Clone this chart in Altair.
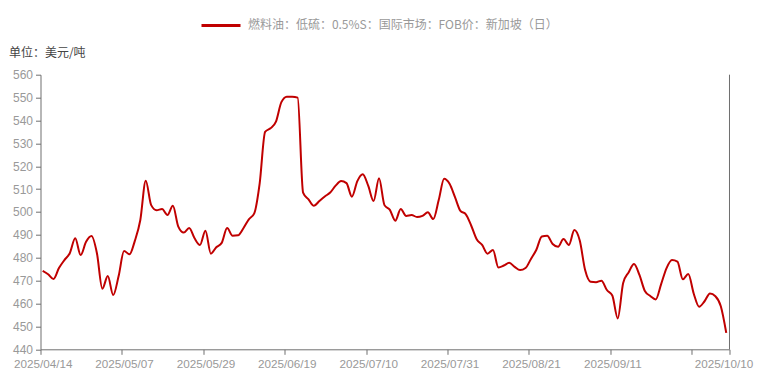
import altair as alt
import pandas as pd

series_name = "燃料油：低硫：0.5%S：国际市场：FOB价：新加坡（日）"
unit_label = "单位：美元/吨"

values = [
    474.3, 472.8, 470.7, 475.5, 479.0, 482.0, 488.5, 481.2, 487.0, 489.5,
    482.0, 466.5, 472.0, 463.7, 472.0, 483.0, 481.5, 487.5, 496.5, 513.7,
    503.0, 500.8, 501.3, 498.7, 502.7, 493.6, 491.0, 493.0, 488.5, 485.6,
    491.8, 481.8, 484.6, 486.5, 493.0, 489.6, 489.8, 492.9, 496.8, 499.4,
    512.5, 535.0, 536.6, 539.5, 548.0, 550.4, 550.4, 550.0, 508.5, 505.5,
    502.7, 504.8, 506.8, 508.5, 511.5, 513.5, 512.6, 506.7, 513.5, 516.5,
    511.5, 504.8, 514.7, 503.0, 500.9, 496.2, 501.3, 498.3, 498.7, 497.8,
    498.3, 499.9, 496.9, 505.2, 514.5, 512.3, 506.5, 500.5, 499.0, 494.0,
    488.1, 485.6, 481.8, 483.4, 475.8, 476.6, 477.8, 476.0, 474.6, 475.5,
    479.5, 483.5, 489.3, 489.6, 486.0, 484.8, 488.2, 485.6, 492.1, 487.5,
    474.5, 469.5, 469.3, 470.0, 465.9, 463.5, 453.5, 469.0, 473.6, 477.3,
    472.5, 465.5, 463.3, 461.8, 468.5, 475.5, 479.0, 478.3, 470.6, 472.9,
    464.4, 458.6, 461.0, 464.4, 463.2, 458.8, 447.2,
]

tick_labels = ["2025/04/14", "2025/05/07", "2025/05/29", "2025/06/19",
               "2025/07/10", "2025/07/31", "2025/08/21", "2025/09/11", ""]
last_label = "2025/10/10"
tick_step = 15
y_ticks = list(range(440, 561, 10))

df = pd.DataFrame({
    "idx": list(range(len(values))),
    "value": values,
    "series": [series_name] * len(values),
})

n = len(values)
x_lo, x_hi = -0.4, n - 1 + 0.6
x_ticks = [x_lo + tick_step * k for k in range(len(tick_labels))] + [x_hi]
label_arr = "[" + ",".join("'%s'" % s for s in tick_labels) + "]"
label_expr = (f"datum.value > {x_hi - 1} ? '{last_label}' : "
              f"{label_arr}[round((datum.value - ({x_lo})) / {tick_step})]")

PLOT_W, PLOT_H = 689, 274.6
AXIS_COLOR = "#6e6e6e"
LABEL_COLOR = "#999999"
RED = "#c00000"

x_enc = alt.X(
    "idx:Q",
    scale=alt.Scale(domain=[x_lo, x_hi], nice=False, zero=False),
    axis=alt.Axis(values=x_ticks, labelExpr=label_expr, title=None, grid=False,
                  tickSize=5, labelPadding=4, labelFontSize=11.7,
                  labelFont="Liberation Sans", labelColor=LABEL_COLOR,
                  domainColor=AXIS_COLOR, tickColor=AXIS_COLOR,
                  labelFlush=False, labelOverlap=False,
                  labelOffset={"condition": {"test": f"datum.value > {x_hi - 1}",
                                             "value": -6},
                               "value": 2.2}),
)
y_enc = alt.Y(
    "value:Q",
    scale=alt.Scale(domain=[440, 560], nice=False, zero=False),
    axis=alt.Axis(values=y_ticks, grid=False, tickSize=5, labelPadding=3,
                  labelFontSize=12, labelFont="Liberation Sans",
                  labelColor=LABEL_COLOR, domainColor=AXIS_COLOR,
                  tickColor=AXIS_COLOR,
                  title=unit_label, titleAngle=0, titleAlign="left",
                  titleBaseline="middle", titleX=-32, titleY=-22,
                  titleFont="Noto Sans CJK SC", titleFontSize=12,
                  titleFontWeight="normal", titleColor="#444444"),
)

line = alt.Chart(df).mark_line(strokeWidth=2, interpolate="monotone").encode(
    x=x_enc,
    y=y_enc,
    color=alt.Color(
        "series:N",
        scale=alt.Scale(range=[RED]),
        legend=alt.Legend(
            title=None, orient="none", legendX=159.5, legendY=-70.2,
            symbolType="stroke", symbolSize=1521, symbolStrokeWidth=3,
            labelFontSize=12, labelFont="Noto Sans CJK SC",
            labelColor=LABEL_COLOR, labelLimit=500, labelOffset=6,
        ),
    ),
)

frame_df = pd.DataFrame({"edge": ["right"]})
right_edge = alt.Chart(frame_df).mark_rule(color=AXIS_COLOR, strokeWidth=1).encode(
    x=alt.value(PLOT_W), y=alt.value(0), y2=alt.value(PLOT_H)
)

chart = alt.layer(line, right_edge).properties(
    width=PLOT_W,
    height=PLOT_H,
    autosize=alt.AutoSizeParams(type="none"),
    padding={"left": 32.5, "top": 66.7, "right": 25.5, "bottom": 24},
    background="white",
).configure_view(stroke=None)

chart.save("out.html", embed_options={"renderer": "svg", "actions": False})
